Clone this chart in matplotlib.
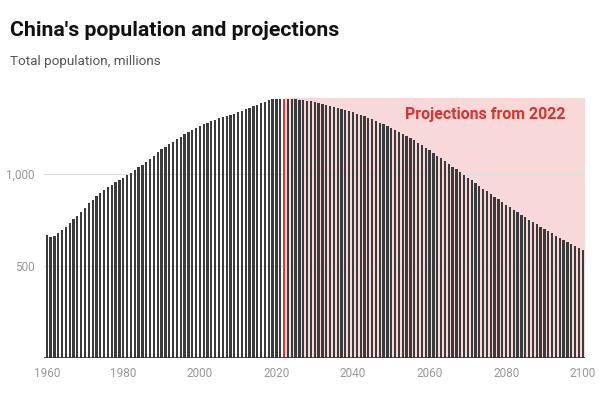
import matplotlib
matplotlib.use("Agg")
import matplotlib.pyplot as plt

plt.rcParams['font.family'] = ['Roboto', 'DejaVu Sans']

# total population, millions
hist_years = list(range(1960, 2022))
hist_pop = [667, 660, 666, 682, 698, 715, 735, 755, 775, 796,
            818, 841, 862, 882, 900, 916, 931, 943, 956, 969,
            981, 994, 1009, 1023, 1037, 1051, 1067, 1084, 1102, 1119,
            1135, 1151, 1165, 1178, 1192, 1205, 1218, 1230, 1242, 1253,
            1263, 1272, 1280, 1288, 1296, 1304, 1311, 1318, 1325, 1331,
            1338, 1345, 1354, 1363, 1372, 1380, 1388, 1396, 1403, 1408,
            1411, 1412]

proj_years = list(range(2022, 2101))
proj_pop = [1412, 1411, 1410, 1408, 1406, 1403, 1400, 1397,
            1393, 1388, 1383, 1378, 1373, 1368, 1362, 1356, 1350, 1344,
            1337, 1330, 1323, 1315, 1307, 1299, 1290, 1281, 1272, 1262,
            1252, 1242, 1231, 1220, 1209, 1197, 1185, 1172, 1159, 1145,
            1131, 1117, 1102, 1087, 1072, 1057, 1042, 1027, 1012, 997,
            982, 967, 952, 937, 922, 907, 892, 878, 863, 849,
            835, 821, 807, 793, 780, 766, 753, 740, 727, 714,
            702, 690, 678, 666, 654, 643, 632, 620, 609, 598,
            587]

highlight_year = 2022
yticks = [500, 1000]
ytick_labels = ["500", "1,000"]
xticks = [1960, 1980, 2000, 2020, 2040, 2060, 2080, 2100]

W, H = 602, 395
fig = plt.figure(figsize=(W / 100, H / 100), dpi=100)
ax = fig.add_axes([44.3 / W, (H - 357.7) / H, (585 - 44.3) / W, (357.7 - 98.3) / H])

years = hist_years + proj_years
pop = hist_pop + proj_pop
colors = ['#e8322b' if y == highlight_year else '#3b3b3b' for y in years]

ax.axvspan(highlight_year + 0.34, proj_years[-1] + 0.6, color='#f8d8d8', lw=0, zorder=0)
for v in yticks:
    ax.axhline(v, color='#dedede', lw=0.8, zorder=1)
ax.bar(years, pop, width=0.6, color=colors, lw=0, zorder=2)
ax.axhline(0, color='#333333', lw=1.2, zorder=3)

ax.set_xlim(1959.37, 2100.6)
ax.set_ylim(0, 1414)
for s in ax.spines.values():
    s.set_visible(False)
ax.set_yticks(yticks)
ax.set_yticklabels(ytick_labels)
ax.set_xticks(xticks)
ax.tick_params(length=0, labelsize=8.5, colors='#999999')
ax.tick_params(axis='y', pad=7)
ax.tick_params(axis='x', pad=7)

fig.text(10 / W, 1 - 31 / H, "China's population and projections", fontsize=15.3,
         fontweight='bold', color='#111111', va='center', ha='left')
fig.text(10 / W, 1 - 62 / H, "Total population, millions", fontsize=9.7,
         color='#555555', va='center', ha='left')
ax.text(2095.6, 1325, "Projections from 2022", fontsize=11.4, fontweight='bold',
        color='#e0312b', ha='right', va='center', zorder=4)

fig.savefig("out.png", dpi=100)
